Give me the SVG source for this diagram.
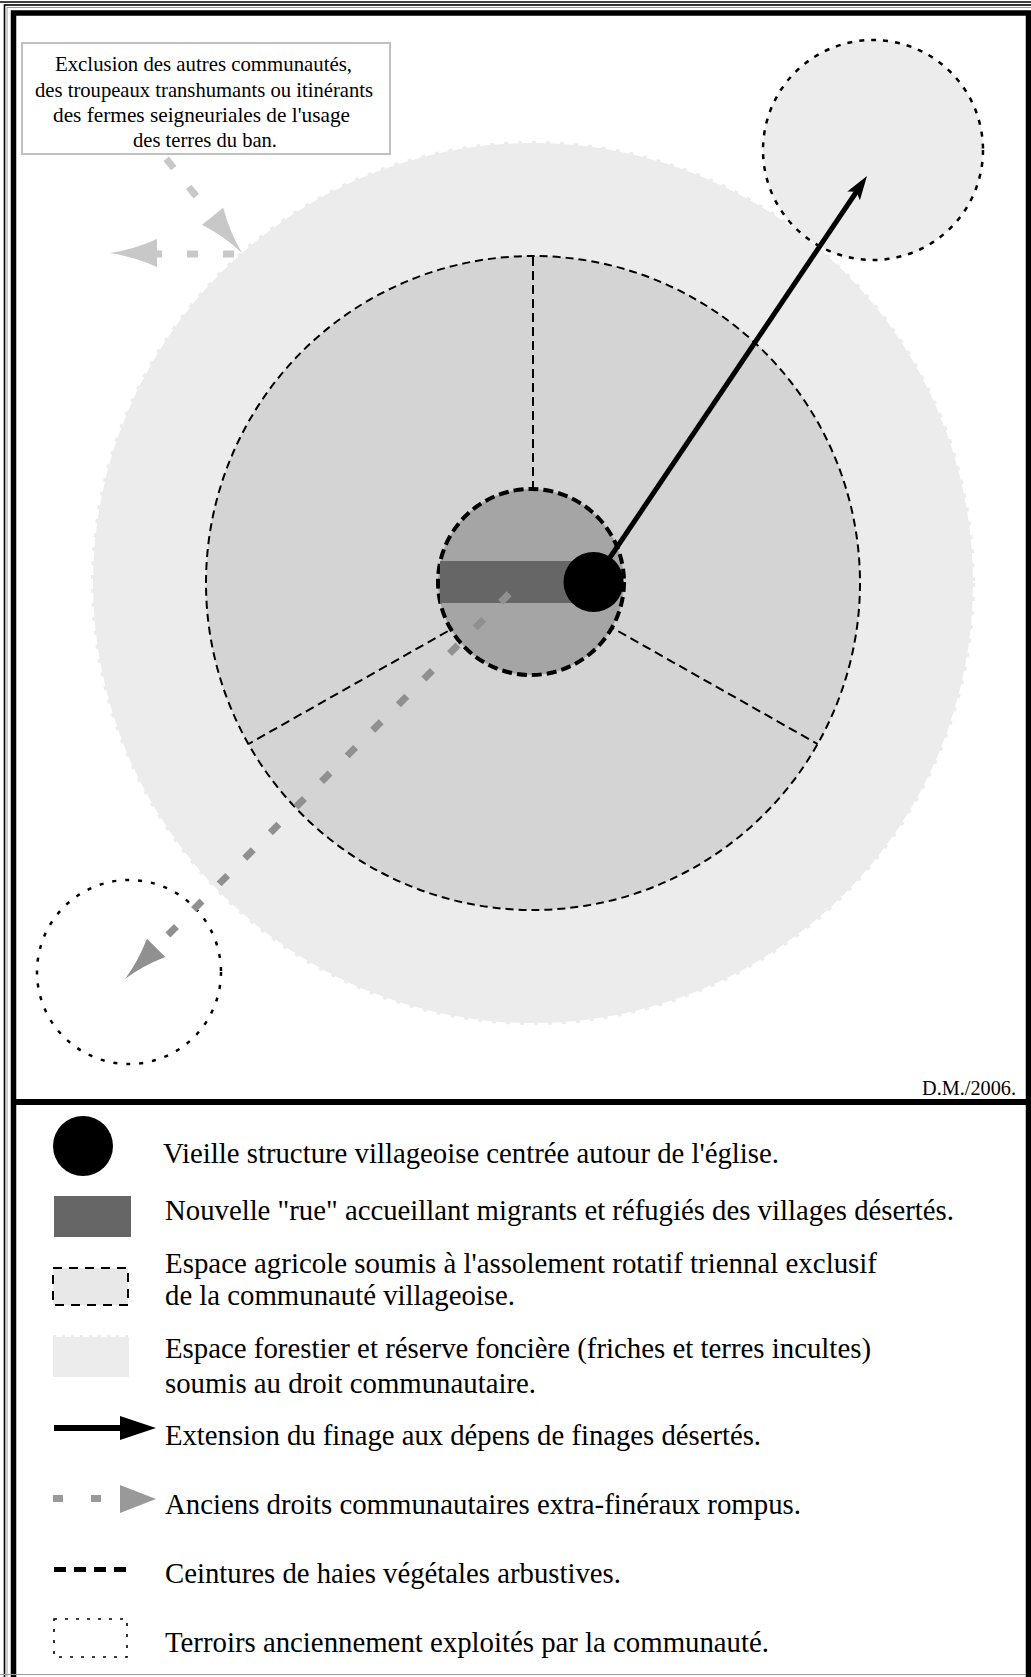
<svg xmlns="http://www.w3.org/2000/svg" width="1031" height="1677" viewBox="0 0 1031 1677">
<style>
.lg{font-family:"Liberation Serif","Times New Roman",serif;font-size:29px;fill:#000}
.bx{font-family:"Liberation Serif","Times New Roman",serif;font-size:21px;fill:#000}
.cr{font-family:"Liberation Serif","Times New Roman",serif;font-size:20px;fill:#000}
.hedge{stroke:#000;stroke-width:2;stroke-dasharray:8 5}
.terroir{stroke:#000;stroke-width:2.5;stroke-dasharray:5 7}
.gdash{stroke:#909090;stroke-width:7;stroke-dasharray:12 24.2;fill:none}
.ldash{stroke:#c8c8c8;stroke-width:7;fill:none}
</style>
<rect x="0" y="0" width="1031" height="1677" fill="#fff"/>

<g id="forest">
<circle cx="533" cy="583" r="440" fill="#ececec"/>
<circle cx="533" cy="583" r="440" fill="none" stroke="#ececec" stroke-width="4" stroke-dasharray="4 10"/>
</g>
<g id="terroir-ne"><circle cx="873" cy="150" r="110" fill="#ececec" class="terroir"/></g>
<g id="terroir-sw"><circle cx="129" cy="972" r="92" fill="none" class="terroir" style="stroke-dasharray:4 9"/></g>
<g id="agri-zone">
<circle cx="533" cy="583" r="327" fill="#d4d4d4" class="hedge"/>
<g id="sectors" stroke="#000" stroke-width="2" stroke-dasharray="9 5" fill="none">
<line x1="533" y1="257" x2="533" y2="492"/>
<line x1="533" y1="583" x2="248.4" y2="744"/>
<line x1="533" y1="583" x2="817.6" y2="744"/>
</g>
</g>
<g id="core"><circle cx="531" cy="582" r="93" fill="#a5a5a5" stroke="#000" stroke-width="4" stroke-dasharray="10 5"/></g>
<g id="street"><rect x="440" y="561" width="150" height="42" fill="#666"/></g>

<g id="note-box">
<rect x="22" y="43" width="368" height="111" fill="#fff" stroke="#c0c0c0" stroke-width="2"/>
<text class="bx" x="55" y="71" textLength="297" lengthAdjust="spacingAndGlyphs">Exclusion des autres communautés,</text>
<text class="bx" x="35" y="96.5" textLength="338" lengthAdjust="spacingAndGlyphs">des troupeaux transhumants ou itinérants</text>
<text class="bx" x="53" y="122" textLength="297" lengthAdjust="spacingAndGlyphs">des fermes seigneuriales de l'usage</text>
<text class="bx" x="133" y="147" textLength="144" lengthAdjust="spacingAndGlyphs">des terres du ban.</text>
</g>

<g id="connectors">
<line class="gdash" x1="509.2" y1="593.8" x2="166" y2="937"/>
<path d="M125,979 Q142.9,965.7 165.3,957.1 L146.9,938.7 Q138.3,961.2 125,979 Z" fill="#909090"/>
<line class="ldash" x1="166.25" y1="158.8" x2="211" y2="214.7" stroke-dasharray="12 24"/>
<path d="M242,253 Q229.6,232 223.2,207.8 L202,224.8 Q224.3,236.3 242,253 Z" fill="#c8c8c8"/>
<line class="ldash" x1="234" y1="254" x2="157" y2="254" stroke-dasharray="11 25"/>
<path d="M110,253 Q135,249 157,239 L157,267 Q135,257 110,253 Z" fill="#c8c8c8"/>
<line x1="593.5" y1="582" x2="857" y2="191" stroke="#000" stroke-width="5"/>
<path d="M867,176 L859.9,200.3 L856.4,191.8 L847.3,191.6 Z" fill="#000"/>
</g>
<g id="village"><circle cx="593.5" cy="582" r="30" fill="#000"/></g>

<text id="credit" class="cr" x="922" y="1095" textLength="94" lengthAdjust="spacingAndGlyphs">D.M./2006.</text>

<g id="frame" fill="none">
<line x1="0" y1="2" x2="1031" y2="2" stroke="#000" stroke-width="1.3"/>
<rect x="4.5" y="5" width="1100" height="1700" stroke="#000" stroke-width="1.6"/>
<rect x="7" y="7.5" width="1100" height="1700" stroke="#999" stroke-width="1"/>
<rect x="13.5" y="13" width="1015" height="1700" stroke="#000" stroke-width="5.5"/>
<line x1="11" y1="1102" x2="1031" y2="1102" stroke="#000" stroke-width="6"/>
<line x1="0" y1="1674.5" x2="1026" y2="1674.5" stroke="#999" stroke-width="1.2"/>
</g>

<g id="legend">
<g id="lg-village"><circle cx="83" cy="1146" r="30" fill="#000"/>
<text class="lg" x="163" y="1163" textLength="616" lengthAdjust="spacingAndGlyphs">Vieille structure villageoise centrée autour de l'église.</text></g>
<g id="lg-street"><rect x="54" y="1196" width="77" height="41" fill="#666"/>
<text class="lg" x="165" y="1220" textLength="789" lengthAdjust="spacingAndGlyphs">Nouvelle "rue" accueillant migrants et réfugiés des villages désertés.</text></g>
<g id="lg-agri"><rect x="53" y="1268" width="75" height="37" fill="#e8e8e8" stroke="#000" stroke-width="2" stroke-dasharray="9 7"/>
<text class="lg" x="165" y="1273" textLength="712" lengthAdjust="spacingAndGlyphs">Espace agricole soumis à l'assolement rotatif triennal exclusif</text>
<text class="lg" x="165" y="1305" textLength="350" lengthAdjust="spacingAndGlyphs">de la communauté villageoise.</text></g>
<g id="lg-forest"><rect x="53" y="1337" width="76" height="40" fill="#ececec"/>
<line x1="53" y1="1336" x2="129" y2="1336" stroke="#ececec" stroke-width="2" stroke-dasharray="3 6"/>
<text class="lg" x="165" y="1358" textLength="706" lengthAdjust="spacingAndGlyphs">Espace forestier et réserve foncière (friches et terres incultes)</text>
<text class="lg" x="165" y="1393" textLength="371" lengthAdjust="spacingAndGlyphs">soumis au droit communautaire.</text></g>
<g id="lg-extension"><line x1="54" y1="1428" x2="122" y2="1428" stroke="#000" stroke-width="6"/>
<polygon points="156,1428 120,1416 120,1440" fill="#000"/>
<text class="lg" x="165" y="1445" textLength="596" lengthAdjust="spacingAndGlyphs">Extension du finage aux dépens de finages désertés.</text></g>
<g id="lg-rights"><rect x="53" y="1495" width="10" height="7" fill="#999"/><rect x="91" y="1495" width="10" height="7" fill="#999"/>
<polygon points="156,1499 120,1485 120,1513" fill="#999"/>
<text class="lg" x="165" y="1514" textLength="636" lengthAdjust="spacingAndGlyphs">Anciens droits communautaires extra-finéraux rompus.</text></g>
<g id="lg-hedge"><line x1="54" y1="1569.5" x2="126" y2="1569.5" stroke="#000" stroke-width="5" stroke-dasharray="12 8"/>
<text class="lg" x="165" y="1583" textLength="456" lengthAdjust="spacingAndGlyphs">Ceintures de haies végétales arbustives.</text></g>
<g id="lg-terroir"><rect x="54" y="1619" width="73" height="38" fill="none" stroke="#000" stroke-width="1.6" stroke-dasharray="3 8"/>
<text class="lg" x="165" y="1652" textLength="604" lengthAdjust="spacingAndGlyphs">Terroirs anciennement exploités par la communauté.</text></g>
</g>
</svg>
